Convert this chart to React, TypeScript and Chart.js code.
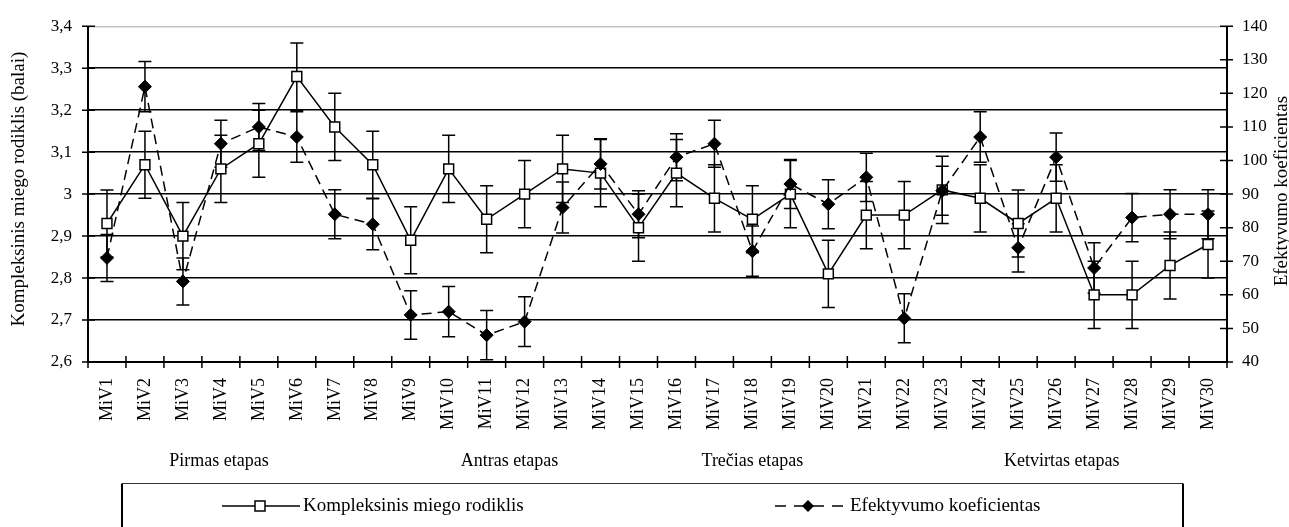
import React, { useEffect, useRef } from "react";
import { Chart, registerables } from "chart.js";

Chart.register(...registerables);

const categories = [
  "MiV1", "MiV2", "MiV3", "MiV4", "MiV5", "MiV6", "MiV7", "MiV8", "MiV9", "MiV10",
  "MiV11", "MiV12", "MiV13", "MiV14", "MiV15", "MiV16", "MiV17", "MiV18", "MiV19", "MiV20",
  "MiV21", "MiV22", "MiV23", "MiV24", "MiV25", "MiV26", "MiV27", "MiV28", "MiV29", "MiV30",
];

const sleepIndex = [
  2.93, 3.07, 2.9, 3.06, 3.12, 3.28, 3.16, 3.07, 2.89, 3.06,
  2.94, 3.0, 3.06, 3.05, 2.92, 3.05, 2.99, 2.94, 3.0, 2.81,
  2.95, 2.95, 3.01, 2.99, 2.93, 2.99, 2.76, 2.76, 2.83, 2.88,
];
const sleepIndexErr = [
  0.08, 0.08, 0.08, 0.08, 0.08, 0.08, 0.08, 0.08, 0.08, 0.08,
  0.08, 0.08, 0.08, 0.08, 0.08, 0.08, 0.08, 0.08, 0.08, 0.08,
  0.08, 0.08, 0.08, 0.08, 0.08, 0.08, 0.08, 0.08, 0.08, 0.08,
];

const efficiency = [
  71, 122, 64, 105, 110, 107, 84, 81, 54, 55,
  48, 52, 86, 99, 84, 101, 105, 73, 93, 87,
  95, 53, 91, 107, 74, 101, 68, 83, 84, 84,
];
const efficiencyErr = [
  7, 7.5, 7, 7, 7, 7.5, 7.3, 7.6, 7.2, 7.5,
  7.3, 7.4, 7.6, 7.5, 7, 7, 7, 7.5, 7.3, 7.3,
  7.2, 7.3, 7.3, 7.5, 7.2, 7.2, 7.5, 7.2, 7.3, 7.3,
];

const leftMin = 2.6;
const leftMax = 3.4;
const leftStep = 0.1;
const rightMin = 40;
const rightMax = 140;
const rightStep = 10;

const stageLabels = ["Pirmas etapas", "Antras etapas", "Trečias etapas", "Ketvirtas etapas"];
const stageAnchors = [2.95, 10.6, 17.0, 25.15];

const seriesNames = ["Kompleksinis miego rodiklis", "Efektyvumo koeficientas"];
const leftTitle = "Kompleksinis miego rodiklis (balai)";
const rightTitle = "Efektyvumo koeficientas";

const FONT = '"Liberation Serif", "Times New Roman", serif';

const customPlugin = {
  id: "customDecor",
  beforeDatasetsDraw(chart: any) {
    const ctx = chart.ctx;
    const xs = chart.scales.x;
    const drawErr = (vals: number[], errs: number[], scale: any) => {
      vals.forEach((v, i) => {
        const px = xs.getPixelForValue(i);
        const top = scale.getPixelForValue(v + errs[i]);
        const bot = scale.getPixelForValue(v - errs[i]);
        ctx.beginPath();
        ctx.moveTo(px, top);
        ctx.lineTo(px, bot);
        ctx.moveTo(px - 6.5, top);
        ctx.lineTo(px + 6.5, top);
        ctx.moveTo(px - 6.5, bot);
        ctx.lineTo(px + 6.5, bot);
        ctx.stroke();
      });
    };
    ctx.save();
    ctx.strokeStyle = "#000";
    ctx.lineWidth = 1.5;
    ctx.setLineDash([]);
    drawErr(sleepIndex, sleepIndexErr, chart.scales.y);
    drawErr(efficiency, efficiencyErr, chart.scales.y1);
    ctx.restore();
  },
  afterDraw(chart: any) {
    const ctx = chart.ctx;
    const area = chart.chartArea;
    const xs = chart.scales.x;
    const ys = chart.scales.y;
    const y1 = chart.scales.y1;
    ctx.save();
    ctx.setLineDash([]);
    ctx.strokeStyle = "#000";
    ctx.lineWidth = 2;
    // axis lines
    ctx.beginPath();
    ctx.moveTo(area.left, area.top);
    ctx.lineTo(area.left, area.bottom);
    ctx.moveTo(area.right, area.top);
    ctx.lineTo(area.right, area.bottom);
    ctx.moveTo(area.left, area.bottom);
    ctx.lineTo(area.right, area.bottom);
    ctx.stroke();
    // crossing tick marks
    ctx.lineWidth = 1.5;
    ctx.beginPath();
    ys.ticks.forEach((t: any) => {
      const py = ys.getPixelForValue(t.value);
      ctx.moveTo(area.left - 6, py);
      ctx.lineTo(area.left + 7, py);
    });
    y1.ticks.forEach((t: any) => {
      const py = y1.getPixelForValue(t.value);
      ctx.moveTo(area.right - 7, py);
      ctx.lineTo(area.right + 6, py);
    });
    for (let i = 0; i <= categories.length; i++) {
      const px = xs.getPixelForValue(i - 0.5);
      ctx.moveTo(px, area.bottom - 6);
      ctx.lineTo(px, area.bottom + 6);
    }
    ctx.stroke();

    ctx.fillStyle = "#000";
    // axis titles
    ctx.font = `19px ${FONT}`;
    ctx.textAlign = "center";
    ctx.textBaseline = "middle";
    ctx.save();
    ctx.translate(19, (area.top + area.bottom) / 2 - 5);
    ctx.rotate(-Math.PI / 2);
    ctx.fillText(leftTitle, 0, 0);
    ctx.restore();
    ctx.save();
    ctx.translate(1282, (area.top + area.bottom) / 2 - 3);
    ctx.rotate(-Math.PI / 2);
    ctx.fillText(rightTitle, 0, 0);
    ctx.restore();

    // stage labels
    ctx.font = `18px ${FONT}`;
    stageLabels.forEach((lbl, i) => {
      ctx.fillText(lbl, xs.getPixelForValue(stageAnchors[i]), 461);
    });

    // legend box
    const lx0 = 122;
    const lx1 = 1183;
    const ly0 = 483.5;
    ctx.lineWidth = 1.2;
    ctx.strokeStyle = "#333";
    ctx.beginPath();
    ctx.moveTo(lx0, ly0);
    ctx.lineTo(lx1, ly0);
    ctx.stroke();
    ctx.strokeStyle = "#000";
    ctx.lineWidth = 2;
    ctx.beginPath();
    ctx.moveTo(lx0, ly0);
    ctx.lineTo(lx0, 540);
    ctx.moveTo(lx1, ly0);
    ctx.lineTo(lx1, 540);
    ctx.stroke();

    const ly = 506;
    // item 1
    ctx.lineWidth = 1.5;
    ctx.beginPath();
    ctx.moveTo(222, ly);
    ctx.lineTo(300, ly);
    ctx.stroke();
    ctx.fillStyle = "#fff";
    ctx.fillRect(255, ly - 5, 10, 10);
    ctx.strokeRect(255, ly - 5, 10, 10);
    // item 2
    ctx.setLineDash([11, 8]);
    ctx.beginPath();
    ctx.moveTo(775, ly);
    ctx.lineTo(843, ly);
    ctx.stroke();
    ctx.setLineDash([]);
    ctx.fillStyle = "#000";
    ctx.beginPath();
    ctx.moveTo(808, ly - 6);
    ctx.lineTo(814, ly);
    ctx.lineTo(808, ly + 6);
    ctx.lineTo(802, ly);
    ctx.closePath();
    ctx.fill();

    ctx.font = `19px ${FONT}`;
    ctx.textAlign = "left";
    ctx.fillText(seriesNames[0], 303, ly);
    ctx.fillText(seriesNames[1], 850, ly);
    ctx.restore();
  },
};

export default function App() {
  const canvasRef = useRef<HTMLCanvasElement | null>(null);

  useEffect(() => {
    document.body.style.margin = "0";
    const canvas = canvasRef.current;
    if (!canvas) return;
    const chart = new Chart(canvas, {
      type: "line",
      data: {
        labels: categories,
        datasets: [
          {
            label: seriesNames[1],
            data: efficiency,
            yAxisID: "y1",
            order: 0,
            borderColor: "#000",
            borderWidth: 1.5,
            borderDash: [10, 6],
            pointStyle: "rectRot",
            pointRadius: 6.5,
            pointBackgroundColor: "#000",
            pointBorderColor: "#000",
            pointBorderWidth: 1,
            tension: 0,
            fill: false,
          },
          {
            label: seriesNames[0],
            data: sleepIndex,
            yAxisID: "y",
            order: 1,
            borderColor: "#000",
            borderWidth: 1.5,
            pointStyle: "rect",
            pointRadius: 7,
            pointBackgroundColor: "#fff",
            pointBorderColor: "#000",
            pointBorderWidth: 1.5,
            tension: 0,
            fill: false,
          },
        ],
      },
      options: {
        responsive: false,
        maintainAspectRatio: false,
        animation: false,
        devicePixelRatio: 1,
        layout: { padding: { top: 20, left: 0, right: 0, bottom: 0 } },
        plugins: {
          legend: { display: false },
          tooltip: { enabled: false },
        },
        scales: {
          x: {
            type: "category",
            offset: true,
            grid: { display: false, drawTicks: false },
            border: { display: false },
            ticks: {
              autoSkip: false,
              maxRotation: 90,
              minRotation: 90,
              padding: 16,
              color: "#000",
              font: { family: FONT, size: 18 },
            },
            afterFit: (s: any) => {
              s.height = 165;
            },
          },
          y: {
            type: "linear",
            position: "left",
            min: leftMin,
            max: leftMax,
            grid: {
              drawTicks: false,
              color: (c: any) =>
                c.tick && Math.abs(c.tick.value - leftMax) < 1e-6 ? "#c4c4c4" : "#000",
              lineWidth: 1.4,
            },
            border: { display: false },
            ticks: {
              stepSize: leftStep,
              padding: 16,
              color: "#000",
              font: { family: FONT, size: 17 },
              callback: (v: any) => String(Math.round(Number(v) * 10) / 10).replace(".", ","),
            },
            afterFit: (s: any) => {
              s.width = 88;
            },
          },
          y1: {
            type: "linear",
            position: "right",
            min: rightMin,
            max: rightMax,
            grid: { drawOnChartArea: false, drawTicks: false },
            border: { display: false },
            ticks: {
              stepSize: rightStep,
              padding: 15,
              color: "#000",
              font: { family: FONT, size: 17 },
            },
            afterFit: (s: any) => {
              s.width = 62;
            },
          },
        },
      },
      plugins: [customPlugin],
    });
    return () => chart.destroy();
  }, []);

  return (
    <div style={{ position: "absolute", left: 0, top: 0, width: 1289, height: 527 }}>
      <canvas ref={canvasRef} width={1289} height={527} style={{ display: "block" }} />
    </div>
  );
}
